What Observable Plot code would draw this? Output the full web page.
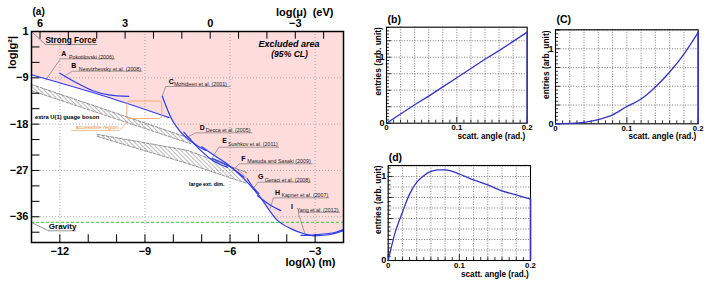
<!DOCTYPE html>
<html><head><meta charset="utf-8">
<script src="https://cdn.jsdelivr.net/npm/d3@7"></script>
<script src="https://cdn.jsdelivr.net/npm/@observablehq/plot@0.6"></script>
<style>
body{margin:0;background:#fff}
#wrap{position:relative;width:708px;height:281px;overflow:hidden;background:#fff}
#wrap svg{position:absolute}
</style>
</head><body><div id="wrap"></div>
<script>
// ---------- Panel (a) data ----------
const xTicksA = [-12, -9, -6, -3];
const xMinorA = [-12, -11, -10, -9, -8, -7, -6, -5, -4, -3];
const muLabels = [6, 3, 0, -3];
const muMinor = [6, 5, 4, 3, 2, 1, 0, -1, -2, -3, -4];
const logHbarC = -6.7; // log10(hbar*c / (eV m)):  log(mu) = logHbarC - log(lambda)
const yTickValsA = [0, -9, -18, -27, -36];
const yTickTextA = ["1", "\u22129", "\u221218", "\u221227", "\u221236"];
const yMinorA = [0, -3, -6, -9, -12, -15, -18, -21, -24, -27, -30, -33, -36, -39];
const gravityLevel = -37.1;

const pokotilovski = [[-13, -8.4], [-10.27, -12.83], [-8.15, -16.75]];
const nesvizhevsky = [[-12.0, -8.1], [-11.45, -9.85], [-10.86, -11.46], [-10.27, -12.3], [-9.57, -12.6]];
const mohideen = [[-8.39, -12.57], [-8.09, -16.65], [-7.63, -20.2], [-7.33, -21.5]];
const decca = [[-7.63, -19.57], [-7.27, -21.7], [-6.86, -23.1]];
const sushkov = [[-7.33, -21.5], [-6.61, -25.07], [-6.09, -26.4]];
const masuda = [[-6.62, -24.7], [-6.0, -26.3], [-5.51, -28.3]];
const geraci = [[-5.39, -28.6], [-5.2, -30.2], [-4.98, -31.5]];
const kapnerShort = [[-5.03, -31.9], [-4.56, -33.8], [-4.21, -34.8]];
const kapner = [[-7.0, -22.4], [-6.5, -24.3], [-6.09, -25.8], [-5.51, -28.6], [-4.98, -31.9], [-4.33, -36.7], [-3.86, -38.3], [-3.39, -39.3], [-3.04, -39.7], [-2.52, -39.5], [-2.0, -38.7]];
const yang = [[-3.5, -39.6], [-2.98, -39.5], [-2.62, -39.3], [-2.27, -39.0], [-2.0, -38.5]];
const limitCurves = [pokotilovski, nesvizhevsky, mohideen, decca, sushkov, masuda, geraci, kapnerShort, kapner, yang];

const envelope = [[-13, -8.4], [-10.27, -12.83], [-8.15, -16.75], [-7.63, -20.2], [-7.33, -21.5], [-6.86, -23.1], [-6.09, -26.0], [-5.51, -28.5], [-4.98, -31.7], [-4.33, -36.7], [-3.86, -38.3], [-3.39, -39.3], [-3.04, -39.7], [-2.52, -39.5], [-2.0, -38.7]];

const bandU1 = [{x: -13, lo: -11.5, hi: -10.3}, {x: -7.39, lo: -21.8, hi: -20.8}];
const bandLED = [{x: -10.68, lo: -20.4, hi: -20.0}, {x: -7.5, lo: -25.65, hi: -23.1}, {x: -5.41, lo: -29.5, hi: -27.4}];
const accessible = {x1: -9.62, x2: -8.39, y1: -17.0, y2: -13.6};

const limitLetters = ["A", "B", "C", "D", "E", "F", "G", "H", "I"];
const limitNames = ["Pokotilovski (2006)", "Nesvizhevsky et al. (2008)", "Mohideen et al. (2001)", "Decca et al. (2005)", "Sushkov et al. (2011)", "Masuda and Sasaki (2009)", "Geraci et al. (2008)", "Kapner et al. (2007)", "Yang et al. (2012)"];
const letterAt = [[-11.86, -4.33], [-11.51, -6.74], [-8.07, -9.85], [-6.98, -18.71], [-6.19, -21.32], [-5.53, -24.74], [-4.92, -28.18], [-4.33, -31.42], [-3.82, -34.14]];
const nameAt = [[-11.68, -4.99], [-11.33, -7.25], [-7.98, -10.30], [-6.86, -19.24], [-6.07, -21.96], [-5.39, -25.20], [-4.78, -28.82], [-4.19, -31.87], [-3.65, -34.65]];
const underlineAt = [[-11.98, -10.06, -5.31], [-11.56, -9.09, -7.71], [-8.27, -5.98, -10.69], [-7.21, -5.21, -19.69], [-6.39, -4.27, -22.48], [-5.68, -3.09, -25.71], [-5.01, -3.15, -29.28], [-4.47, -2.51, -32.32], [-3.60, -2.12, -35.12]];
const leaderEnd = [[-12.51, -9.52], [-11.80, -8.55], [-8.39, -12.57], [-7.50, -20.54], [-6.68, -24.93], [-5.91, -27.21], [-5.21, -30.76], [-4.59, -34.45], [-3.36, -39.31]];

// ---------- Panels (b)(c)(d) data ----------
const angle = [0, 0.02, 0.04, 0.06, 0.08, 0.1, 0.12, 0.14, 0.16, 0.18, 0.2];
const entriesB = [0, 0.14, 0.28, 0.41, 0.55, 0.69, 0.83, 0.97, 1.10, 1.24, 1.38];
const entriesC = [0, 0.005, 0.02, 0.057, 0.12, 0.23, 0.33, 0.49, 0.69, 0.93, 1.22];
const angleD = [0, 0.01, 0.02, 0.03, 0.04, 0.05, 0.06, 0.07, 0.08, 0.09, 0.1, 0.12, 0.14, 0.16, 0.18, 0.2];
const entriesD = [0, 0.34, 0.575, 0.79, 0.93, 1.01, 1.06, 1.08, 1.08, 1.06, 1.03, 0.96, 0.90, 0.83, 0.78, 0.73];
const angleTicks = [0, 0.1, 0.2];
const angleTickText = ["0", "0.1", "0.2"];
const angleGrid = [0.02, 0.04, 0.06, 0.08, 0.1, 0.12, 0.14, 0.16, 0.18];
const angleMinor = d3.range(0, 21).map(i => i / 100);
const entryTicks = [0, 1];

const FONT = "'Liberation Sans', Arial, Helvetica, sans-serif";
const wrap = document.getElementById("wrap");
function place(svg, left, top) {
  svg.style.left = left + "px"; svg.style.top = top + "px";
  wrap.appendChild(svg);
}
const baseStyle = {fontFamily: FONT, background: "transparent", overflow: "visible", color: "#000"};
const BLUE = "#2b3cf0";
const LEAD = "#6a6a6a";

// ---------- Panel (a) ----------
const muX = m => logHbarC - m;
const link4 = {x1: d => d[0], y1: d => d[1], x2: d => d[2], y2: d => d[3]};
const svgA = Plot.plot({
  width: 360, height: 281,
  marginLeft: 31, marginRight: 17, marginTop: 31, marginBottom: 39,
  x: {domain: [-13, -2], axis: null}, y: {domain: [-41, 0], axis: null},
  style: baseStyle,
  marks: [
    Plot.areaY(envelope, {x: d => d[0], y1: d => d[1], y2: 0, fill: "#ffdcdc"}),
    Plot.ruleX(xTicksA, {stroke: "#9a9a9a", strokeDasharray: "1,2", strokeWidth: 0.8}),
    Plot.ruleY(yTickValsA.slice(1), {stroke: "#9a9a9a", strokeDasharray: "1,2", strokeWidth: 0.8}),
    // hatched bands
    Plot.areaY(bandU1, {x: "x", y1: "lo", y2: "hi", fill: "url(#hatchA)"}),
    Plot.line(bandU1, {x: "x", y: "hi", stroke: "#777", strokeDasharray: "3,1.5", strokeWidth: 0.8}),
    Plot.line(bandU1, {x: "x", y: "lo", stroke: "#777", strokeDasharray: "3,1.5", strokeWidth: 0.8}),
    Plot.areaY(bandLED, {x: "x", y1: "lo", y2: "hi", fill: "url(#hatchA)"}),
    Plot.line(bandLED, {x: "x", y: "hi", stroke: "#777", strokeDasharray: "3,1.5", strokeWidth: 0.8}),
    Plot.line(bandLED, {x: "x", y: "lo", stroke: "#777", strokeDasharray: "3,1.5", strokeWidth: 0.8}),
    // gravity
    Plot.ruleY([gravityLevel], {stroke: "#5fcf5f", strokeDasharray: "3,2", strokeWidth: 1.3}),
    // limit curves
    ...limitCurves.map(c => Plot.line(c, {x: d => d[0], y: d => d[1], stroke: BLUE, strokeWidth: 1.2, curve: "monotone-x"})),
    // accessible region
    Plot.rect([accessible], {x1: "x1", x2: "x2", y1: "y1", y2: "y2", rx: 3, fill: "none", stroke: "#f0a868", strokeWidth: 0.9}),
    Plot.link([[-9.89, -19.24, -9.58, -17.3]], {...link4, stroke: "#f0a868", strokeWidth: 0.7}),
    Plot.ruleY([-19.24], {x1: -11.59, x2: -9.89, stroke: "#f0a868", strokeWidth: 0.7}),
    Plot.text(["accessible region"], {x: -11.45, y: -18.6, textAnchor: "start", fontSize: 5.6, fill: "#e8904a"}),
    // labels of limits
    Plot.link(underlineAt, {x1: d => d[0], x2: d => d[1], y1: d => d[2], y2: d => d[2], stroke: LEAD, strokeWidth: 0.6}),
    Plot.link(underlineAt.map((u, i) => [u[0], u[2], leaderEnd[i][0], leaderEnd[i][1]]), {...link4, stroke: LEAD, strokeWidth: 0.6}),
    Plot.text(limitLetters, {x: (d, i) => letterAt[i][0], y: (d, i) => letterAt[i][1], text: d => d, fontSize: 7, fontWeight: "bold", textAnchor: "middle"}),
    Plot.text(limitNames, {x: (d, i) => nameAt[i][0], y: (d, i) => nameAt[i][1], text: d => d, fontSize: 5.3, textAnchor: "start", fill: "#222"}),
    // strong force / gravity labels
    Plot.link([[-13, 0, -12.51, -2.53]], {...link4, stroke: LEAD, strokeWidth: 0.7}),
    Plot.ruleY([-2.53], {x1: -12.51, x2: -10.67, stroke: LEAD, strokeWidth: 0.7}),
    Plot.text(["Strong Force"], {x: -12.51, y: -1.7, textAnchor: "start", fontSize: 8.2, fontWeight: "bold"}),
    Plot.link([[-13, -37.12, -12.4, -38.73]], {...link4, stroke: LEAD, strokeWidth: 0.7}),
    Plot.ruleY([-38.73], {x1: -12.4, x2: -11.41, stroke: LEAD, strokeWidth: 0.7}),
    Plot.text(["Gravity"], {x: -12.39, y: -37.95, textAnchor: "start", fontSize: 8, fontWeight: "bold"}),
    Plot.text(["Excluded area"], {x: -3.92, y: -2.5, textAnchor: "middle", fontSize: 9, fontWeight: "bold", fontStyle: "italic"}),
    Plot.text(["(95% CL)"], {x: -3.9, y: -4.45, textAnchor: "middle", fontSize: 8.6, fontWeight: "bold", fontStyle: "italic"}),
    Plot.text(["extra U(1) guage boson"], {x: -12.88, y: -16.65, textAnchor: "start", fontSize: 5.8, fontWeight: "bold"}),
    Plot.text(["large ext. dim."], {x: -7.45, y: -29.6, textAnchor: "start", fontSize: 5.3, fontWeight: "bold"}),
    // ticks (inward)
    Plot.ruleX(xMinorA, {y1: -41, y2: -39.5, stroke: "#000", strokeWidth: 1}),
    Plot.ruleX(muMinor, {x: muX, y1: 0, y2: -1.5, stroke: "#000", strokeWidth: 1}),
    Plot.ruleY(yMinorA, {x1: -13, x2: -12.7, stroke: "#000", strokeWidth: 1}),
    Plot.frame({stroke: "#000", strokeWidth: 1.5}),
    // tick labels
    Plot.text(xTicksA, {x: d => d, y: -41, dy: 8.5, text: d => (d < 0 ? "\u2212" : "") + Math.abs(d), fontSize: 11, fontWeight: "bold"}),
    Plot.text(muLabels, {x: muX, y: 0, dy: -8, text: d => (d < 0 ? "\u2212" : "") + Math.abs(d), fontSize: 11, fontWeight: "bold"}),
    Plot.text(yTickValsA, {x: -13, y: d => d, dx: -3, textAnchor: "end", text: (d, i) => yTickTextA[i], fontSize: 11, fontWeight: "bold"}),
    // axis titles
    Plot.text(["log(\u03bb) (m)"], {frameAnchor: "bottom-right", dx: -8, dy: 23, textAnchor: "end", fontSize: 11, fontWeight: "bold"}),
    Plot.text(["log(\u03bc)  (eV)"], {frameAnchor: "top-right", dx: -10, dy: -23, textAnchor: "end", fontSize: 11, fontWeight: "bold"}),
    Plot.text(["log|g\u00b2|"], {frameAnchor: "top-left", dx: -23, dy: 21, rotate: -90, textAnchor: "middle", fontSize: 11, fontWeight: "bold"}),
    Plot.text(["(a)"], {frameAnchor: "top-left", dx: 1, dy: -24, textAnchor: "start", fontSize: 10, fontWeight: "bold"})
  ]
});
// hatch pattern
(function addHatch(svg) {
  const ns = "http://www.w3.org/2000/svg";
  const defs = document.createElementNS(ns, "defs");
  const pat = document.createElementNS(ns, "pattern");
  pat.setAttribute("id", "hatchA");
  pat.setAttribute("patternUnits", "userSpaceOnUse");
  pat.setAttribute("width", "3");
  pat.setAttribute("height", "3");
  pat.setAttribute("patternTransform", "rotate(-45)");
  const ln = document.createElementNS(ns, "line");
  ln.setAttribute("x1", "0"); ln.setAttribute("y1", "0");
  ln.setAttribute("x2", "0"); ln.setAttribute("y2", "3");
  ln.setAttribute("stroke", "#555"); ln.setAttribute("stroke-width", "0.8");
  pat.appendChild(ln); defs.appendChild(pat);
  svg.insertBefore(defs, svg.firstChild);
})(svgA);
place(svgA, 0, 0);

// ---------- Panels (b)(c)(d) ----------
const PBLUE = "#3434c6";
function histPanel({xs, ys, width, height, mL, mT, mR, mB, yMax, yGrid, yMinor, tag, tagDx, tagDy, ytDx, ytDy, xtDx, xtDy, curve, xLabDy}) {
  const fw = width - mL - mR, fh = height - mT - mB;
  const xl = 3 * 0.2 / fw, xlMaj = 5 * 0.2 / fw;   // tick lengths (3 / 5 px) in x units
  const yl = 3 * yMax / fh, ylMaj = 6 * yMax / fh;
  const last = xs.length - 1;
  return Plot.plot({
    width, height, marginLeft: mL, marginTop: mT, marginRight: mR, marginBottom: mB,
    x: {domain: [0, 0.2], axis: null}, y: {domain: [0, yMax], axis: null},
    style: baseStyle,
    marks: [
      Plot.ruleX(angleGrid, {stroke: "#444", strokeDasharray: "1,1.6", strokeWidth: 0.7}),
      Plot.ruleY(yGrid, {stroke: "#444", strokeDasharray: "1,1.6", strokeWidth: 0.7}),
      Plot.ruleX(angleMinor, {y1: 0, y2: (d, i) => (i % 10 === 0 ? ylMaj : yl), stroke: "#000", strokeWidth: 0.8}),
      Plot.ruleY(yMinor, {x1: 0, x2: d => (Math.abs(d - Math.round(d * 4) / 4) < 1e-6 ? xlMaj : xl), stroke: "#000", strokeWidth: 0.8}),
      Plot.frame({stroke: "#000", strokeWidth: 1.1}),
      Plot.line(xs.map((x, i) => [x, ys[i]]), {x: d => d[0], y: d => d[1], stroke: PBLUE, strokeWidth: 1.3, curve}),
      Plot.ruleX([xs[last]], {y1: 0, y2: ys[last], stroke: PBLUE, strokeWidth: 1.6}),
      Plot.text(angleTicks, {x: d => d, y: 0, dy: xLabDy, text: (d, i) => angleTickText[i], fontSize: 7.8, fontWeight: "bold"}),
      Plot.text(entryTicks, {x: 0, y: d => d, dx: -2, textAnchor: "end", text: d => String(d), fontSize: 9, fontWeight: "bold"}),
      Plot.text(["entries (arb. unit)"], {frameAnchor: "top-left", rotate: -90, textAnchor: "end", dx: ytDx, dy: ytDy, fontSize: 8.4, fontWeight: "bold"}),
      Plot.text(["scatt. angle (rad.)"], {frameAnchor: "bottom-right", textAnchor: "end", dx: xtDx, dy: xtDy, fontSize: 8.2, fontWeight: "bold"}),
      Plot.text([tag], {frameAnchor: "top-left", textAnchor: "start", dx: tagDx, dy: tagDy, fontSize: 10.5, fontWeight: "bold"})
    ]
  });
}
const q = n => d3.range(0, n + 1).map(i => i * 0.05);
place(histPanel({xs: angle, ys: entriesB, width: 180, height: 145, mL: 26, mT: 26.7, mR: 13.3, mB: 22.3,
  yMax: 1.455, yGrid: [0.25, 0.5, 0.75, 1, 1.25], yMinor: q(29), tag: "(b)", tagDx: 1, tagDy: -11.7,
  ytDx: -11, ytDy: 0, xtDx: -2, xtDy: 15.5, curve: "linear", xLabDy: 4.2}), 360, 0);
place(histPanel({xs: angle, ys: entriesC, width: 178, height: 145, mL: 25, mT: 29.3, mR: 10.3, mB: 21.7,
  yMax: 1.253, yGrid: [0.25, 0.5, 0.75, 1, 1.25], yMinor: q(25), tag: "(C)", tagDx: 1, tagDy: -14.3,
  ytDx: -12.5, ytDy: 0.7, xtDx: -2, xtDy: 15, curve: "monotone-x", xLabDy: 4.2}), 530, 0);
place(histPanel({xs: angleD, ys: entriesD, width: 180, height: 141, mL: 27.7, mT: 25, mR: 10, mB: 21,
  yMax: 1.131, yGrid: [0.125, 0.25, 0.375, 0.5, 0.625, 0.75, 0.875, 1, 1.125], yMinor: q(22), tag: "(d)", tagDx: 0.5, tagDy: -11.7,
  ytDx: -12.7, ytDy: 0, xtDx: -1.7, xtDy: 16, curve: "monotone-x", xLabDy: 5.2}), 360, 140);
</script>
</body></html>
